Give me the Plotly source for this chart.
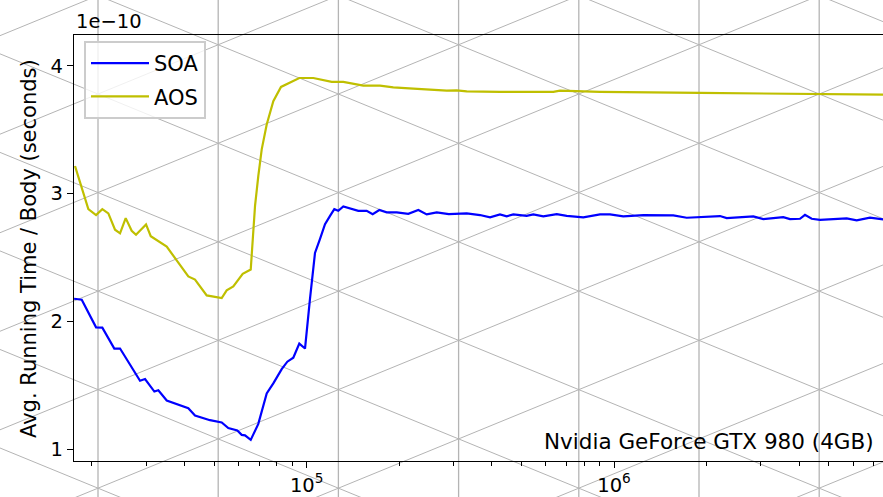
import plotly.graph_objects as go

# ---------------- data (values in units of 1e-10 s) ----------------
soa_n = [17490, 18530, 20630, 21620, 23650, 24690, 28680, 29780, 31930, 32900,
         35030, 41180, 43300, 48450, 52890, 55560, 59460, 61440, 62980, 65740,
         69580, 74100, 77860, 82910, 86480, 90450, 94600, 98740, 102500, 106400,
         110500, 114700, 119100, 122960, 126700, 131550, 147200, 156760, 163950,
         172290, 182100, 196300, 214100, 230800, 245800, 264900, 290000, 331700,
         366400, 395000, 425600, 447500, 470200, 519800, 546200, 588800, 651100,
         701800, 794600, 835400, 900600, 970500, 1072000, 1246000, 1560000,
         1724000, 1905000, 2213000, 2327000, 2840000, 3061000, 3555000, 3739000,
         4030000, 4183000, 4399000, 4681000, 5168000, 5717000, 6163000, 6809000,
         7505000, 8000000]
soa_t = [2.177, 2.169, 1.953, 1.951, 1.787, 1.787, 1.535, 1.548, 1.450, 1.460,
         1.380, 1.320, 1.263, 1.226, 1.208, 1.164, 1.146, 1.111, 1.107, 1.072,
         1.197, 1.436, 1.514, 1.626, 1.684, 1.715, 1.826, 1.787, 2.177, 2.535,
         2.645, 2.761, 2.826, 2.878, 2.865, 2.899, 2.865, 2.865, 2.839,
         2.871, 2.853, 2.853, 2.842, 2.871, 2.837, 2.853, 2.840, 2.845,
         2.832, 2.814, 2.837, 2.822, 2.837, 2.826, 2.837, 2.822, 2.839,
         2.826, 2.814, 2.822, 2.837, 2.837, 2.822, 2.832, 2.829,
         2.811, 2.816, 2.824, 2.808, 2.822, 2.800, 2.816, 2.800,
         2.803, 2.834, 2.803, 2.795, 2.800, 2.806, 2.790, 2.811,
         2.798, 2.800]

aos_n = [17620, 19470, 20630, 21620, 22620, 23780, 24690, 25760, 26940, 27830,
         30000, 31080, 35030, 41180, 43300, 44960, 47270, 52890, 54900, 57690,
         61910, 65740, 66730, 67890, 69580, 71380, 74100, 77860, 82480, 88250,
         94600, 105100, 111900, 120600, 131550, 138320, 152800, 173200, 191300,
         222300, 258200, 285500, 307700, 331700, 425600, 546200, 634600, 667200,
         756100, 900600, 1905000, 4566000, 7505000, 8000000]
aos_t = [3.216, 2.878, 2.832, 2.878, 2.845, 2.717, 2.689, 2.808, 2.709, 2.678,
         2.759, 2.666, 2.585, 2.351, 2.327, 2.273, 2.203, 2.182, 2.242, 2.273,
         2.372, 2.405, 2.670, 2.904, 3.138, 3.346, 3.541, 3.723, 3.835, 3.871,
         3.905, 3.905, 3.892, 3.874, 3.874, 3.866, 3.845, 3.845, 3.832,
         3.822, 3.814, 3.806, 3.808, 3.800, 3.796, 3.793, 3.796, 3.806,
         3.800, 3.796, 3.788, 3.777, 3.775, 3.775]

series_names = ["SOA", "AOS"]
x_major = [1e5, 1e6]
x_major_text = ["10<sup>5</sup>", "10<sup>6</sup>"]
x_minor = [m * 10 ** e for e in (4, 5, 6) for m in range(2, 10)]
y_ticks = [1, 2, 3, 4]

# ---------------- figure ----------------
W, H = 883, 497
ML, MR, MT, MB = 74, 0, 35, 34
PW, PH = W - ML - MR, H - MT - MB


def px(xp):
    return (xp - ML) / PW


def py(yp):
    return (H - MB - yp) / PH


FONT = "DejaVu Sans"
FS = 21.5
TFS = 19.5
fig = go.Figure()
fig.add_trace(go.Scatter(x=soa_n, y=soa_t, mode="lines", name=series_names[0],
                         line=dict(color="#0000ff", width=2.2), legendgroup="a"))
fig.add_trace(go.Scatter(x=aos_n, y=aos_t, mode="lines", name=series_names[1],
                         line=dict(color="#bfbf00", width=2.2), legendgroup="b"))

# decorative triangular background pattern
shapes = []
GC = "#b4b4b4"
X0, Y0, DX, DY = 98.0, 193.3, 120.2, 99.0
SL = (DY / 2) / DX
for i in range(-1, 8):
    xv = X0 + i * DX
    shapes.append(dict(type="line", xref="paper", yref="paper",
                       x0=px(xv), x1=px(xv), y0=py(-20), y1=py(520),
                       line=dict(color=GC, width=1.3), layer="below"))
for k in range(-10, 12):
    for sgn in (1, -1):
        xa, xb = -50.0, 950.0
        ya = Y0 + k * DY + sgn * SL * (xa - X0)
        yb = Y0 + k * DY + sgn * SL * (xb - X0)
        shapes.append(dict(type="line", xref="paper", yref="paper",
                           x0=px(xa), x1=px(xb), y0=py(ya), y1=py(yb),
                           line=dict(color=GC, width=1), layer="below"))

fig.update_layout(
    width=W, height=H,
    margin=dict(l=ML, r=MR, t=MT, b=MB),
    paper_bgcolor="white",
    plot_bgcolor="rgba(0,0,0,0)",
    font=dict(family=FONT, size=FS, color="black"),
    shapes=shapes,
    showlegend=True,
    legend=dict(x=px(84), y=py(41), xanchor="left", yanchor="top",
                bgcolor="rgba(255,255,255,0.8)", bordercolor="#cccccc",
                borderwidth=2, font=dict(family=FONT, size=21),
                tracegroupgap=3, traceorder="grouped", itemwidth=58),
    xaxis=dict(type="log", range=[4.2427, 6.8754],
               tickmode="array", tickvals=x_major, ticktext=x_major_text,
               ticks="outside", ticklen=6, tickwidth=1.2, tickcolor="black",
               minor=dict(tickmode="array", tickvals=x_minor, ticks="outside",
                          ticklen=4, tickwidth=1, tickcolor="black", showgrid=False),
               showline=True, linecolor="black", linewidth=1.4, mirror=True,
               showgrid=False, zeroline=False,
               tickfont=dict(family=FONT, size=TFS)),
    yaxis=dict(range=[0.9065, 4.2416], tickvals=y_ticks,
               ticks="outside", ticklen=6, tickwidth=1.2, tickcolor="black",
               showline=True, linecolor="black", linewidth=1.4, mirror=False,
               showgrid=False, zeroline=False,
               tickfont=dict(family=FONT, size=TFS)),
    annotations=[
        dict(text="1e\u221210", xref="paper", yref="paper", x=px(74), y=py(21),
             xanchor="left", yanchor="middle", showarrow=False,
             font=dict(family=FONT, size=TFS)),
        dict(text="Avg. Running Time / Body (seconds)", xref="paper", yref="paper",
             x=px(29), y=py(250), textangle=-90, xanchor="center", yanchor="middle",
             showarrow=False, font=dict(family=FONT, size=21)),
        dict(text="Nvidia GeForce GTX 980 (4GB)", xref="paper", yref="paper",
             x=px(876), y=py(443), xanchor="right", yanchor="middle",
             showarrow=False, font=dict(family=FONT, size=FS)),
    ],
)

fig.write_html("out.html",
               config={"displayModeBar": False},
               post_script="document.body.style.margin='0';"
                           "document.body.style.overflow='hidden';")
